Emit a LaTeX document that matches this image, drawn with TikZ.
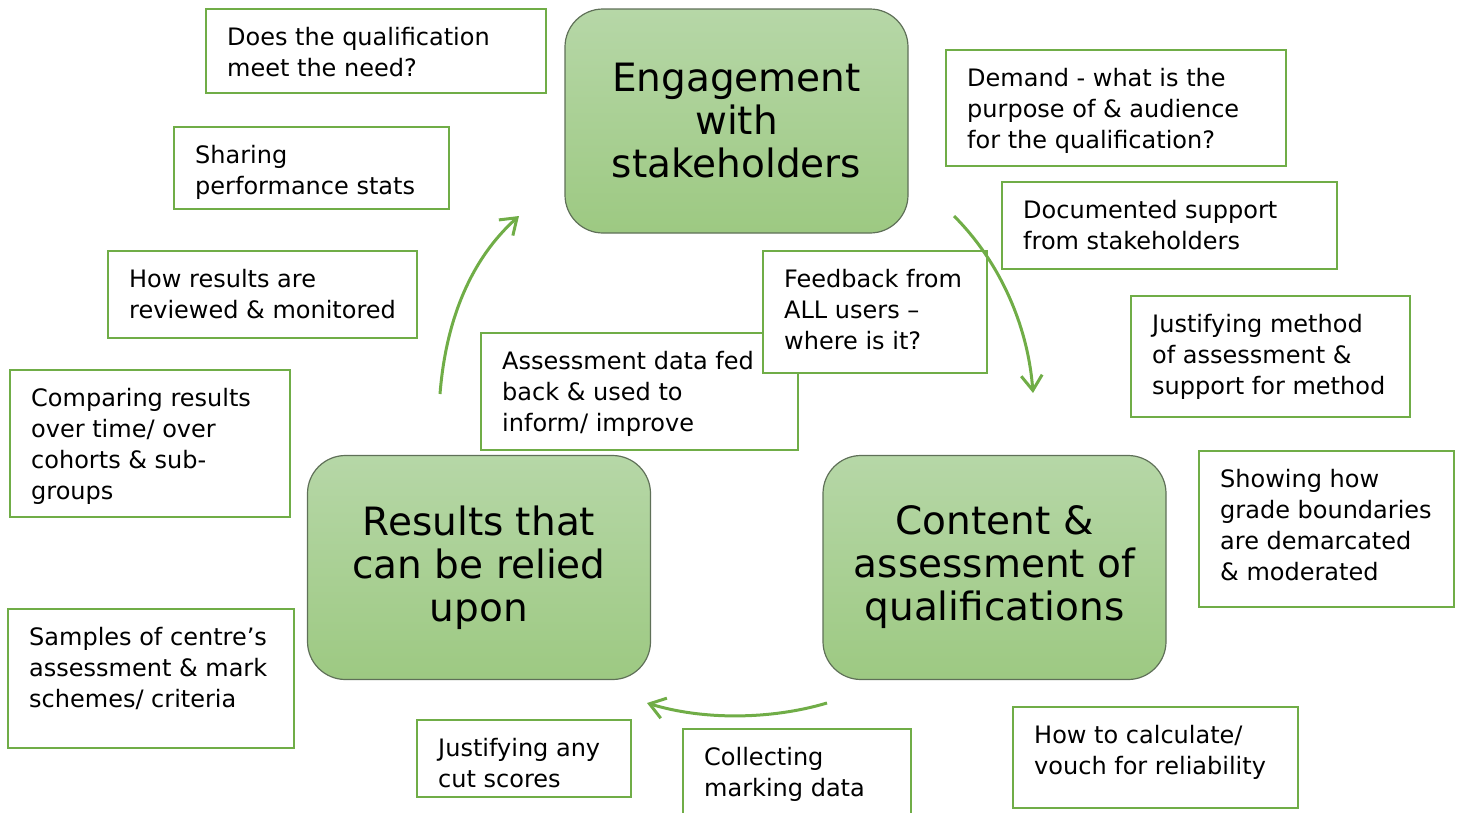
\documentclass[tikz,border=0pt]{standalone}
\usepackage{fontspec}
\setmainfont{DejaVu Sans}
\usetikzlibrary{arrows.meta}

\definecolor{leaf}{RGB}{112,173,71}
\definecolor{stagetop}{RGB}{182,215,167}
\definecolor{stagebot}{RGB}{157,201,130}
\definecolor{stageedge}{RGB}{95,112,88}

\tikzset{
  note/.style={draw=leaf, line width=2.5pt, fill=white},
  notetext/.style={anchor=north west, inner sep=0pt, align=left,
    font=\fontsize{24}{31}\selectfont},
  stage/.style={draw=stageedge, line width=1.2pt, rounded corners=38pt,
    top color=stagetop, bottom color=stagebot,
    minimum width=343pt, minimum height=224pt, align=center,
    font=\fontsize{39}{43}\selectfont},
  loopline/.style={draw=leaf, line width=3pt,
    -{Straight Barb[length=15pt,width=21pt]}}
}

\begin{document}
\begin{tikzpicture}[x=1pt,y=-1pt]
        \useasboundingbox (0,0) rectangle (1459,812);

        % three stages
        \node[stage] (engage) at (736.5,121) {Engagement\\with\\stakeholders};
        \node[stage] (content) at (994.5,567.5) {Content \&\\assessment of\\qualifications};
        \node[stage] (results) at (479,567.5) {Results that\\can be relied\\upon};

        % notes round the top stage
        \draw[note] (206,9) rectangle (546,93);
        \node[notetext] (need) at (227,27) {Does the qualification\\meet the need?};
        \draw[note] (174,127) rectangle (449,209);
        \node[notetext] (stats) at (195,145) {Sharing\\performance stats};
        \draw[note] (946,50) rectangle (1286,166);
        \node[notetext] (demand) at (967,68) {Demand - what is the\\purpose of \& audience\\for the qualification?};
        \draw[note] (1002,182) rectangle (1337,269);
        \node[notetext] (support) at (1023,200) {Documented support\\from stakeholders};

        % notes round the content stage
        \draw[note] (1131,296) rectangle (1410,417);
        \node[notetext] (method) at (1152,314) {Justifying method\\of assessment \&\\support for method};
        \draw[note] (1199,451) rectangle (1454,607);
        \node[notetext] (grades) at (1220,469) {Showing how\\grade boundaries\\are demarcated\\\& moderated};
        \draw[note] (1013,707) rectangle (1298,808);
        \node[notetext] (reliab) at (1034,725) {How to calculate/\\vouch for reliability};
        \draw[note] (683,729) rectangle (911,814);
        \node[notetext] (marking) at (704,747) {Collecting\\marking data};

        % notes round the results stage
        \draw[note] (417,720) rectangle (631,797);
        \node[notetext] (cut) at (438,738) {Justifying any\\cut scores};
        \draw[note] (8,609) rectangle (294,748);
        \node[notetext] (samples) at (29,627) {Samples of centre’s\\assessment \& mark\\schemes/ criteria};
        \draw[note] (10,370) rectangle (290,517);
        \node[notetext] (compare) at (31,388) {Comparing results\\over time/ over\\cohorts \& sub-\\groups};
        \draw[note] (108,251) rectangle (417,338);
        \node[notetext] (review) at (129,269) {How results are\\reviewed \& monitored};

        % notes in the middle
        \draw[note] (481,333) rectangle (798,450);
        \node[notetext] (fedback) at (502,351) {Assessment data fed\\back \& used to\\inform/ improve};
        \draw[note] (763,251) rectangle (987,373);
        \node[notetext] (feedback) at (784,269) {Feedback from\\ALL users –\\where is it?};

        % the cycle
        \coordinate (r1) at (440,394);
        \coordinate (e1) at (519,216);
        \coordinate (e2) at (954,216);
        \coordinate (c1) at (1033,393);
        \coordinate (c2) at (827,703);
        \coordinate (r2) at (647,703);
        \draw[loopline] (r1) .. controls (446,318) and (472,258) .. (e1);
        \draw[loopline] (e2) .. controls (1000,262) and (1028,326) .. (c1);
        \draw[loopline] (c2) .. controls (770,720) and (702,720) .. (r2);
\end{tikzpicture}
\end{document}
